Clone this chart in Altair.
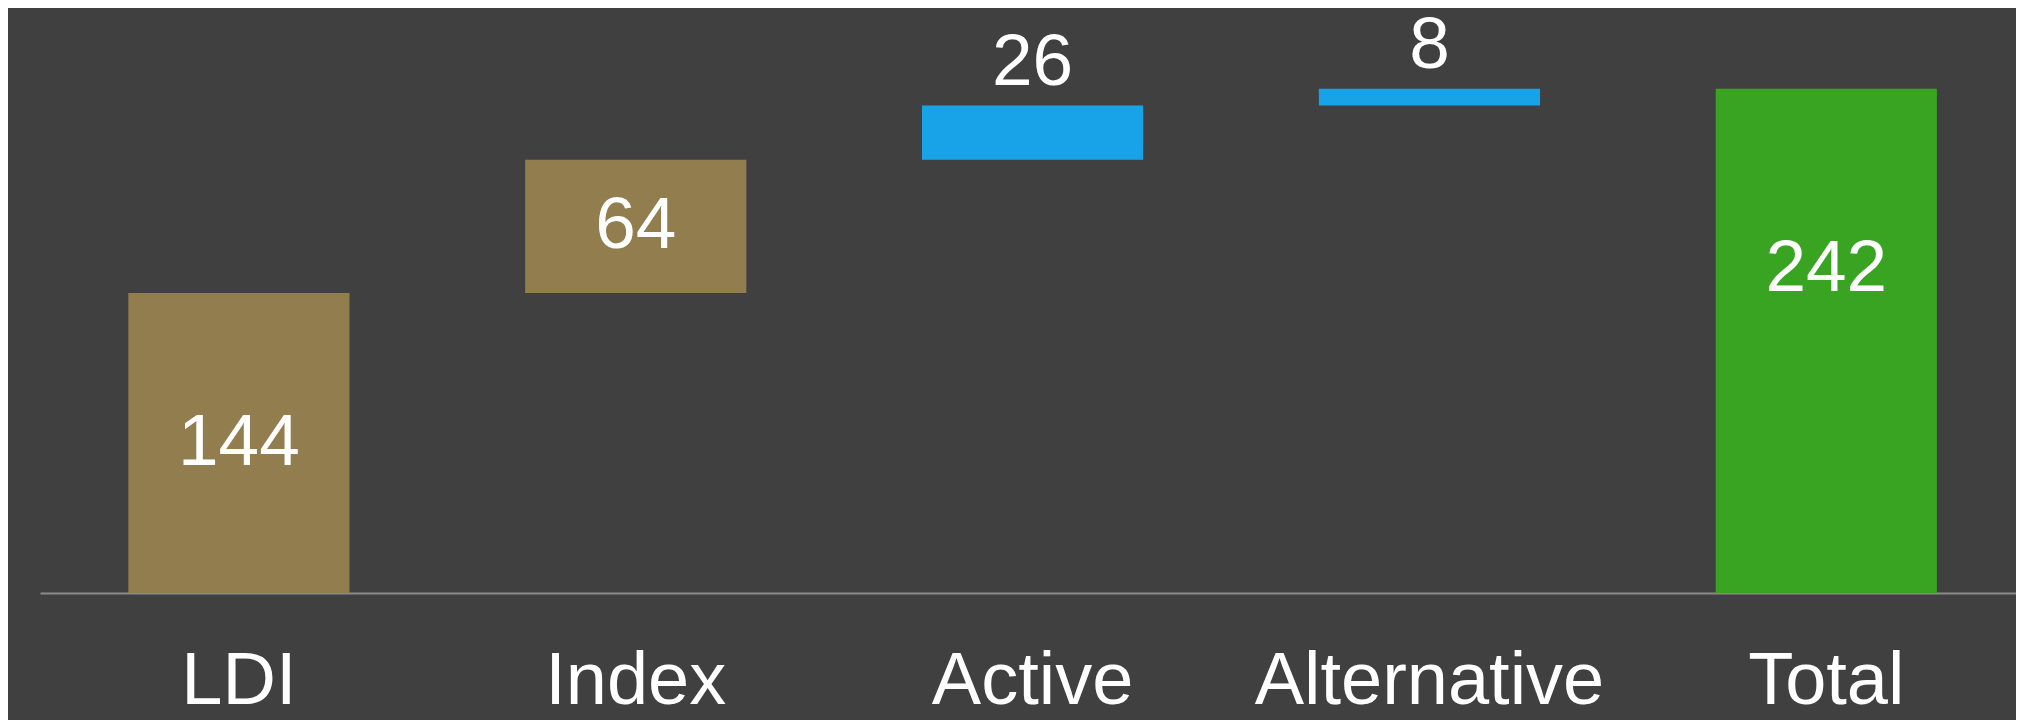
import altair as alt
import pandas as pd

# ---- data ----
categories = ["LDI", "Index", "Active", "Alternative", "Total"]
values = [144, 64, 26, 8, 242]
kinds = ["base", "base", "increase", "increase", "total"]
label_modes = ["inside", "inside", "above", "above", "total"]

kind_domain = ["base", "increase", "total"]
kind_colors = ["#917D4E", "#18A3E8", "#38A422"]

# ---- build the waterfall table from the values ----
rows = []
running = 0
for cat, val, kind, mode in zip(categories, values, kinds, label_modes):
    if kind == "total":
        start, end = 0, val
    else:
        start, end = running, running + val
        running = end
    rows.append(dict(category=cat, value=val, kind=kind, mode=mode,
                     start=start, end=end, mid=(start + end) / 2))
df = pd.DataFrame(rows)

FONT = "Liberation Sans"

x_enc = alt.X(
    "category:N",
    sort=categories,
    scale=alt.Scale(paddingInner=0.4426, paddingOuter=0.2109, align=0.5275),
    axis=alt.Axis(
        title=None,
        labelFont=FONT,
        labelFontSize=74,
        labelColor="#FFFFFF",
        labelAngle=0,
        labelPadding=110,
        labelBaseline="alphabetic",
        labelLimit=0,
        labelOverlap=False,
        ticks=False,
        tickSize=0,
        domainColor="#8A8A8A",
        domainWidth=2,
        grid=False,
    ),
)
y_scale = alt.Scale(domain=[0, 276], nice=False, zero=True)

base = alt.Chart(df)

bars = base.mark_bar().encode(
    x=x_enc,
    y=alt.Y("start:Q", scale=y_scale, axis=None),
    y2="end:Q",
    color=alt.Color("kind:N", scale=alt.Scale(domain=kind_domain, range=kind_colors), legend=None),
)

inside = base.transform_filter(alt.datum.mode == "inside").mark_text(
    font=FONT, fontSize=73, color="#FFFFFF", baseline="middle", align="center"
).encode(
    x=alt.X("category:N", sort=categories),
    y=alt.Y("mid:Q", scale=y_scale),
    text=alt.Text("value:Q"),
)

total_lbl = base.transform_filter(alt.datum.mode == "total").mark_text(
    font=FONT, fontSize=73, color="#FFFFFF", baseline="middle", align="center", dy=-72
).encode(
    x=alt.X("category:N", sort=categories),
    y=alt.Y("mid:Q", scale=y_scale),
    text=alt.Text("value:Q"),
)

above = base.transform_filter(alt.datum.mode == "above").mark_text(
    font=FONT, fontSize=73, color="#FFFFFF", baseline="alphabetic", align="center", dy=-21
).encode(
    x=alt.X("category:N", sort=categories),
    y=alt.Y("end:Q", scale=y_scale),
    text=alt.Text("value:Q"),
)

chart = (
    alt.layer(bars, inside, total_lbl, above)
    .properties(
        width=1976,
        height=575,
        autosize=alt.AutoSizeParams(type="none"),
        padding={"left": 32, "top": 10, "right": 0, "bottom": 130},
        background="#404040",
    )
    .configure_view(stroke=None)
)

chart.save("out.html", embed_options={"renderer": "svg", "actions": False})
